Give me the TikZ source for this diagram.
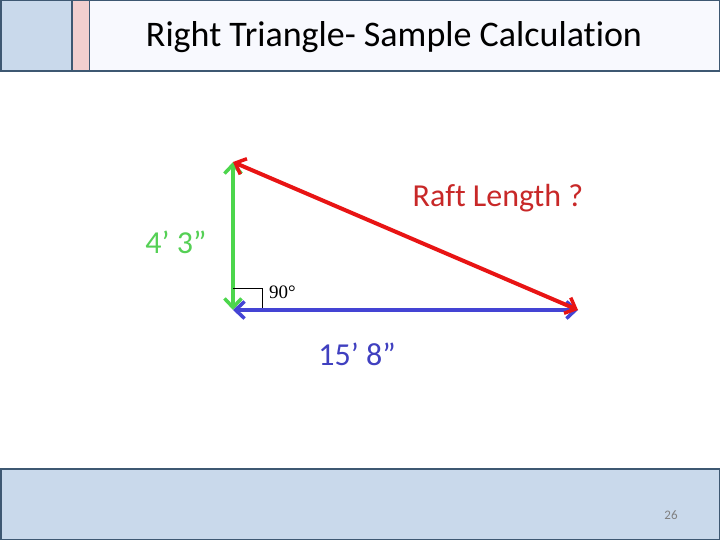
\documentclass[tikz,border=0pt]{standalone}
\usepackage{fontspec}
\setmainfont{Carlito}[Ligatures=NoCommon]
\newfontfamily\serifnum{Liberation Serif}
\usetikzlibrary{arrows.meta}
\definecolor{hdrline}{HTML}{3E5872}
\definecolor{paleblue}{HTML}{C9D9EB}
\definecolor{palepink}{HTML}{F2CFCF}
\definecolor{hdrfill}{HTML}{F8F9FE}
\definecolor{sgreen}{HTML}{4CD64C}
\definecolor{sred}{HTML}{E81414}
\definecolor{sblue}{HTML}{4444D4}
\definecolor{tred}{HTML}{C82828}
\definecolor{tgreen}{HTML}{55D055}
\definecolor{tblue}{HTML}{4040C0}
\tikzset{
  side/.style={line width=4pt, {Straight Barb[length=9pt,width=17pt,line width=3.5pt]}-{Straight Barb[length=9pt,width=17pt,line width=3.5pt]}},
  lbl/.style={inner sep=0pt, font=\fontsize{32}{36}\selectfont}
}
\begin{document}
\begin{tikzpicture}[x=1pt,y=-1pt]
\useasboundingbox (0,0) rectangle (720,540);
\fill[white] (0,0) rectangle (720,540);
% header
\draw[hdrline, line width=1.5pt, fill=hdrfill] (0.75,0.75) rectangle (719.25,71);
\draw[hdrline, line width=1.5pt, fill=paleblue] (0.75,0.75) rectangle (72,71);
\draw[hdrline, line width=1.5pt, fill=palepink] (72,0.75) rectangle (89.5,71);
\node[inner sep=0pt, font=\fontsize{36}{40}\selectfont] (title) at (394,37) {Right Triangle- Sample Calculation};
% footer
\draw[hdrline, line width=1.5pt, fill=paleblue] (0.75,469) rectangle (719.25,539.25);
\node[inner sep=0pt, text=gray, font=\fontsize{13}{15}\selectfont] (pg) at (671,515) {26};
% triangle
\coordinate (A) at (233,162);
\coordinate (B) at (233,310);
\coordinate (C) at (578,310);
\draw[sgreen, side] (A) -- (B);
\draw[sblue, side] (B) -- (C);
\draw[sred, side] (C) -- (A);
\draw[black, line width=0.8pt] (233,288) -- (262,288) -- (262,308);
\node[inner sep=0pt, anchor=west, font=\serifnum\fontsize{19}{22}\selectfont] (ang) at (269,292) {90°};
\node[lbl, text=tgreen] (h) at (176,242) {4’ 3”};
\node[lbl, text=tred] (r) at (498,198) {Raft Length ?};
\node[lbl, text=tblue] (b) at (357,354) {15’ 8”};
\end{tikzpicture}
\end{document}
